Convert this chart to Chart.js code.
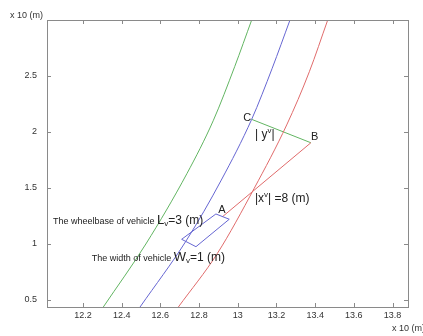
<!DOCTYPE html>
<html>
<head>
<meta charset="utf-8">
<script src="https://cdn.jsdelivr.net/npm/chart.js@4.4.1/dist/chart.umd.min.js"></script>
<style>
    html, body { margin: 0; padding: 0; background: #fff; }
    #wrap { width: 423px; height: 336px; }
</style>
</head>
<body>
<div id="wrap"><canvas id="chart" width="423" height="336"></canvas></div>
<script>
// axis ranges and ticks (units: x 10 m)
const xRange = [12.014, 13.88];
const yRange = [0.4375, 3.0];
const xTicks = [12.2, 12.4, 12.6, 12.8, 13, 13.2, 13.4, 13.6, 13.8];
const yTicks = [0.5, 1, 1.5, 2, 2.5];

// lane curves
const greenX = [12.305, 12.525, 12.738, 12.873, 12.984, 13.072];
const greenY = [0.4375, 1.0, 1.631, 2.1, 2.583, 3.0];
const blueX = [12.495, 12.736, 12.915, 13.072, 13.178, 13.270];
const blueY = [0.4375, 1.036, 1.571, 2.113, 2.569, 3.0];
const redX = [12.693, 12.895, 13.085, 13.253, 13.370, 13.465];
const redY = [0.4375, 0.917, 1.497, 2.063, 2.538, 3.0];

// vehicle outline and the A-B / C-B segments
const vehX = [12.710, 12.784, 12.956, 12.887, 12.710];
const vehY = [1.042, 0.976, 1.221, 1.268, 1.042];
const abX = [12.922, 13.378];
const abY = [1.245, 1.904];
const cbX = [13.072, 13.378];
const cbY = [2.113, 1.904];

// text labels: anchor in data units, then pieces of rich text
const labelX = [12.045, 12.245, 13.089, 13.089, 13.028, 13.378, 12.899];
const labelY = [1.179, 0.848, 1.372, 1.944, 2.101, 1.929, 1.274];
const labelParts = [
    [['The wheelbase of vehicle ', 9, 0], ['L', 13, 0], ['v', 8, 2], ['=3 (m)', 12, 0]],
    [['The width of vehicle ', 9, 0], ['W', 13, 0], ['v', 8, 2], ['=1 (m)', 12, 0]],
    [['|x', 12, 0], ['v', 8, -5], ['| =8 (m)', 12, 0]],
    [['| y', 12, 0], ['v', 8, -5], ['|', 12, 0]],
    [['C', 11, 0]],
    [['B', 11, 0]],
    [['A', 11, 0]]
];

const FONT = '"Liberation Sans", Arial, sans-serif';
const GREEN = '#62b562';
const BLUE = '#6666d2';
const RED = '#e06b6b';

function pts(xs, ys) {
    return xs.map((x, i) => ({ x: x, y: ys[i] }));
}

function curve(xs, ys, color) {
    return {
        data: pts(xs, ys),
        showLine: true,
        borderColor: color,
        borderWidth: 1,
        pointRadius: 0,
        cubicInterpolationMode: 'monotone',
        fill: false
    };
}

function segment(xs, ys, color) {
    return {
        data: pts(xs, ys),
        showLine: true,
        borderColor: color,
        borderWidth: 1,
        pointRadius: 0,
        tension: 0,
        fill: false
    };
}

// box around the plot with inward tick marks, plus the "x 10 (m)" notes
const framePlugin = {
    id: 'frame',
    afterDraw(chart) {
        const { ctx, chartArea: a, scales } = chart;
        ctx.save();
        ctx.strokeStyle = '#8a8a8a';
        ctx.lineWidth = 1;
        ctx.strokeRect(a.left + 0.5, a.top + 0.5, a.right - a.left, a.bottom - a.top);
        ctx.beginPath();
        xTicks.forEach(v => {
            const px = Math.round(scales.x.getPixelForValue(v)) + 0.5;
            ctx.moveTo(px, a.bottom);
            ctx.lineTo(px, a.bottom - 4);
            ctx.moveTo(px, a.top);
            ctx.lineTo(px, a.top + 4);
        });
        yTicks.forEach(v => {
            const py = Math.round(scales.y.getPixelForValue(v)) + 0.5;
            ctx.moveTo(a.left, py);
            ctx.lineTo(a.left + 4, py);
            ctx.moveTo(a.right, py);
            ctx.lineTo(a.right - 4, py);
        });
        ctx.stroke();

        ctx.fillStyle = '#333';
        ctx.font = '9px ' + FONT;
        ctx.textBaseline = 'alphabetic';
        ctx.textAlign = 'left';
        ctx.fillText('x 10 (m)', a.left - 37, a.top - 2);
        ctx.fillText('x 10 (m)', a.right - 16, a.bottom + 24);
        ctx.restore();
    }
};

const labelPlugin = {
    id: 'labels',
    afterDatasetsDraw(chart) {
        const { ctx, scales } = chart;
        ctx.save();
        ctx.fillStyle = '#222';
        ctx.textBaseline = 'alphabetic';
        ctx.textAlign = 'left';
        labelParts.forEach((parts, i) => {
            let px = scales.x.getPixelForValue(labelX[i]);
            const py = scales.y.getPixelForValue(labelY[i]);
            parts.forEach(([text, size, dy]) => {
                ctx.font = size + 'px ' + FONT;
                ctx.fillText(text, px, py + dy);
                px += ctx.measureText(text).width;
            });
        });
        ctx.restore();
    }
};

const tickFont = { family: FONT, size: 9 };

new Chart(document.getElementById('chart'), {
    type: 'scatter',
    data: {
        datasets: [
            curve(greenX, greenY, GREEN),
            curve(blueX, blueY, BLUE),
            curve(redX, redY, RED),
            segment(vehX, vehY, BLUE),
            segment(abX, abY, RED),
            segment(cbX, cbY, GREEN)
        ]
    },
    options: {
        responsive: false,
        animation: false,
        layout: { padding: { left: 7, right: 15, top: 20, bottom: 7 } },
        plugins: {
            legend: { display: false },
            tooltip: { enabled: false }
        },
        scales: {
            x: {
                type: 'linear',
                min: xRange[0],
                max: xRange[1],
                afterBuildTicks: s => { s.ticks = xTicks.map(v => ({ value: v })); },
                afterFit: s => { s.height = 22; },
                grid: { display: false, drawTicks: false },
                border: { display: false },
                ticks: {
                    color: '#333',
                    font: tickFont,
                    padding: 3,
                    maxRotation: 0,
                    autoSkip: false,
                    callback: v => String(v)
                }
            },
            y: {
                type: 'linear',
                min: yRange[0],
                max: yRange[1],
                afterBuildTicks: s => { s.ticks = yTicks.map(v => ({ value: v })); },
                afterFit: s => { s.width = 40; },
                grid: { display: false, drawTicks: false },
                border: { display: false },
                ticks: {
                    color: '#333',
                    font: tickFont,
                    padding: 10,
                    autoSkip: false,
                    callback: v => String(v)
                }
            }
        }
    },
    plugins: [framePlugin, labelPlugin]
});
</script>
</body>
</html>
